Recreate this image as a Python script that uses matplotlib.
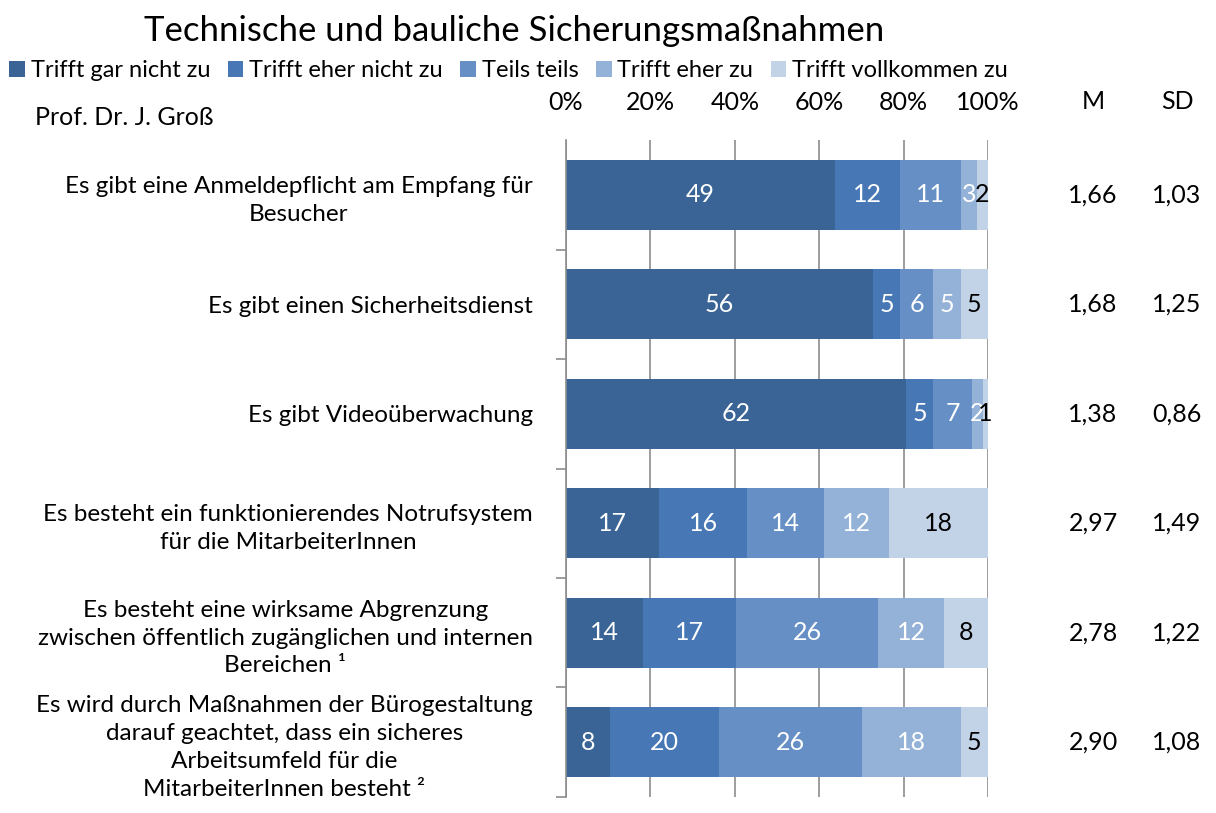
import numpy as np
import matplotlib.pyplot as plt
import matplotlib.transforms as mtransforms

plt.rcParams['font.family'] = ['Lato', 'DejaVu Sans']

# data
title = "Technische und bauliche Sicherungsmaßnahmen"
author = "Prof. Dr. J. Groß"
items = [
    "Es gibt eine Anmeldepflicht am Empfang für\nBesucher",
    "Es gibt einen Sicherheitsdienst",
    "Es gibt Videoüberwachung",
    "Es besteht ein funktionierendes Notrufsystem\nfür die MitarbeiterInnen",
    "Es besteht eine wirksame Abgrenzung\nzwischen öffentlich zugänglichen und internen\nBereichen \u00b9",
    "Es wird durch Maßnahmen der Bürogestaltung\ndarauf geachtet, dass ein sicheres\nArbeitsumfeld für die\nMitarbeiterInnen besteht \u00b2",
]
answers = ["Trifft gar nicht zu", "Trifft eher nicht zu", "Teils teils",
           "Trifft eher zu", "Trifft vollkommen zu"]
gar_nicht = [49, 56, 62, 17, 14, 8]
eher_nicht = [12, 5, 5, 16, 17, 20]
teils = [11, 6, 7, 14, 26, 26]
eher = [3, 5, 2, 12, 12, 18]
vollkommen = [2, 5, 1, 18, 8, 5]
mean_vals = ["1,66", "1,68", "1,38", "2,97", "2,78", "2,90"]
sd_vals = ["1,03", "1,25", "0,86", "1,49", "1,22", "1,08"]

colors = ["#3A6496", "#4778B5", "#6690C5", "#94B2D8", "#C2D3E8"]
text_colors = ["white", "white", "white", "white", "black"]

counts = np.array([gar_nicht, eher_nicht, teils, eher, vollkommen], dtype=float)
totals = counts.sum(axis=0)
shares = counts / totals * 100

fig = plt.figure(figsize=(12.16, 8.13), dpi=100)
ax = fig.add_axes([0.4655, 0.0197, 0.347, 0.808])

y = np.arange(len(items))
left = np.zeros(len(items))
handles = []
for k in range(len(answers)):
    bars = ax.barh(y, shares[k], left=left, height=0.64, color=colors[k],
                   label=answers[k], zorder=2)
    handles.append(bars)
    for i in range(len(items)):
        ax.text(left[i] + shares[k][i] / 2, y[i], "%d" % counts[k][i],
                ha="center", va="center", fontsize=18, color=text_colors[k], zorder=3)
    left += shares[k]

ax.set_xlim(0, 100)
ax.set_ylim(len(items) - 0.5, -0.5)
ax.xaxis.tick_top()
ax.set_xticks(np.arange(0, 101, 20))
ax.set_xticklabels(["%d%%" % v for v in range(0, 101, 20)], fontsize=18)
ax.tick_params(axis="x", length=0, pad=19)
ax.grid(axis="x", color="#8C8C8C", lw=1.2, zorder=0)

ax.set_yticks(y)
ax.set_yticklabels(items, fontsize=17.5)
for lab in ax.get_yticklabels():
    lab.set_multialignment("center")
    lab.set_linespacing(1.4)
ax.tick_params(axis="y", which="major", length=0, pad=24)
ax.set_yticks(np.arange(0.5, len(items), 1), minor=True)
ax.tick_params(axis="y", which="minor", length=7, color="#8C8C8C", width=1.2)

for s in ["top", "right", "bottom"]:
    ax.spines[s].set_visible(False)
ax.spines["left"].set_color("#8C8C8C")
ax.spines["left"].set_linewidth(1.2)

# M / SD columns
trans = mtransforms.blended_transform_factory(ax.transAxes, ax.transData)
ax.text(1.249, 1.059, "M", transform=ax.transAxes, ha="center", va="center", fontsize=18)
ax.text(1.448, 1.059, "SD", transform=ax.transAxes, ha="center", va="center", fontsize=18)
for i in range(len(items)):
    ax.text(1.249, y[i], mean_vals[i], transform=trans, ha="center", va="center", fontsize=18)
    ax.text(1.448, y[i], sd_vals[i], transform=trans, ha="center", va="center", fontsize=18)

fig.text(0.423, 0.962, title, ha="center", va="center", fontsize=25)
fig.text(0.029, 0.855, author, ha="left", va="center", fontsize=18)
fig.legend(handles=handles, labels=answers, loc="center left", bbox_to_anchor=(0.0, 0.913),
           ncol=5, frameon=False, fontsize=17, handlelength=0.65, handleheight=0.65,
           handletextpad=0.25, columnspacing=0.75, borderaxespad=0)

fig.savefig("out.png", dpi=100)
